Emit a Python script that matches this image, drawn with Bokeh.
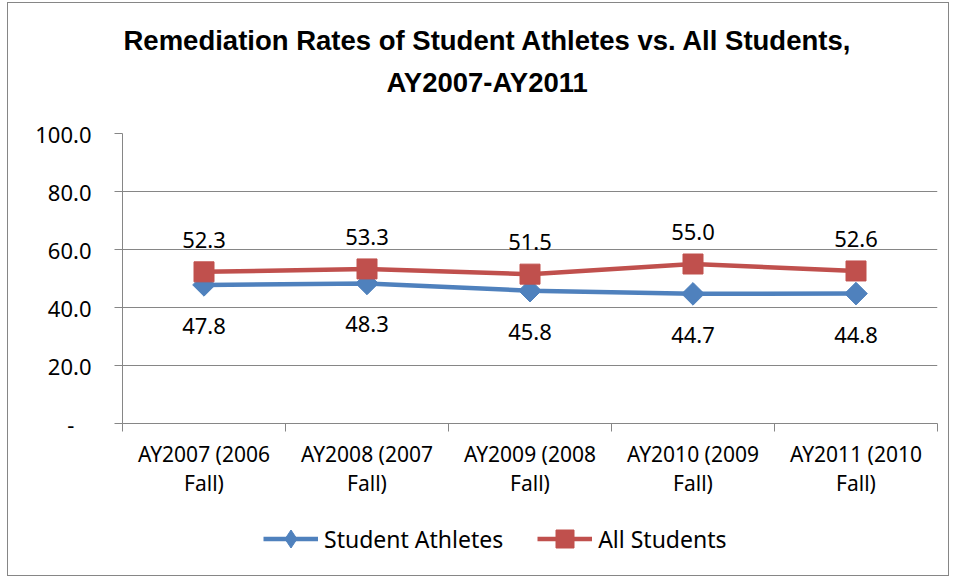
from bokeh.plotting import figure
from bokeh.layouts import column
from bokeh.models import (LinearAxis, FixedTicker, Range1d, Title, Legend,
                          LegendItem, ColumnDataSource)
from bokeh.core.properties import value
from bokeh.embed import file_html
from bokeh.resources import INLINE

# ---- data ----
categories = ["AY2007 (2006 Fall)", "AY2008 (2007 Fall)", "AY2009 (2008 Fall)",
              "AY2010 (2009 Fall)", "AY2011 (2010 Fall)"]
tick_labels = ["AY2007 (2006\nFall)", "AY2008 (2007\nFall)", "AY2009 (2008\nFall)",
               "AY2010 (2009\nFall)", "AY2011 (2010\nFall)"]
student_athletes = [47.8, 48.3, 45.8, 44.7, 44.8]
all_students = [52.3, 53.3, 51.5, 55.0, 52.6]
y_ticks = [0, 20, 40, 60, 80, 100]
title_lines = ["Remediation Rates of Student Athletes vs. All Students,", "AY2007-AY2011"]
series_names = ["Student Athletes", "All Students"]

BLUE = "#4F81BD"
RED = "#C0504D"
GRAY = "#868686"
TXT = "#000000"
FONT = "Noto Sans"
TFONT = "Liberation Sans"

n = len(categories)
xs = [i + 0.5 for i in range(n)]

src_a = ColumnDataSource(dict(x=xs, y=student_athletes,
                              lbl=[f"{v:.1f}" for v in student_athletes]))
src_b = ColumnDataSource(dict(x=xs, y=all_students,
                              lbl=[f"{v:.1f}" for v in all_students]))

fig = figure(width=940, height=505,
             x_range=Range1d(0, n), y_range=Range1d(0, 100),
             x_axis_type=None, output_backend="svg", toolbar_location=None,
             min_border_left=114, min_border_right=11,
             min_border_top=130, min_border_bottom=85)
fig.outline_line_color = None
fig.background_fill_color = "white"
fig.border_fill_color = "white"

# y axis
fig.yaxis.ticker = FixedTicker(ticks=y_ticks)
fig.yaxis.major_label_overrides = {t: (f"{t:.1f}" if t else "-\u00a0\u00a0\u00a0") for t in y_ticks}
fig.yaxis.axis_line_color = GRAY
fig.yaxis.major_tick_line_color = GRAY
fig.yaxis.major_tick_out = 8
fig.yaxis.major_tick_in = 0
fig.yaxis.minor_tick_line_color = None
fig.yaxis.major_label_standoff = 23
fig.yaxis.major_label_text_font = FONT
fig.yaxis.major_label_text_font_size = "22px"
fig.yaxis.major_label_text_color = TXT

fig.ygrid.ticker = FixedTicker(ticks=y_ticks)
fig.ygrid.grid_line_color = GRAY
fig.ygrid.grid_line_width = 1
fig.xgrid.visible = False

# x axis: boundary ticks, then category labels
tick_axis = LinearAxis(ticker=FixedTicker(ticks=list(range(n + 1))),
                       major_label_overrides={i: "" for i in range(n + 1)},
                       major_label_text_font_size="1px", major_label_standoff=0,
                       axis_line_color=GRAY, major_tick_line_color=GRAY,
                       major_tick_out=8, major_tick_in=0, minor_tick_line_color=None)
label_axis = LinearAxis(ticker=FixedTicker(ticks=xs),
                        major_label_overrides={x: l for x, l in zip(xs, tick_labels)},
                        axis_line_color=None, major_tick_line_color=None,
                        minor_tick_line_color=None, major_tick_out=0, major_tick_in=0,
                        major_label_standoff=8, major_label_text_font=FONT,
                        major_label_text_font_size="21px", major_label_text_color=TXT,
                        major_label_text_line_height=1.05)
fig.add_layout(tick_axis, "below")
fig.add_layout(label_axis, "below")

# series
fig.line("x", "y", source=src_a, line_color=BLUE, line_width=4.5)
fig.scatter("x", "y", source=src_a, marker="square", angle=0.785398, size=16,
            fill_color=BLUE, line_color=BLUE)
fig.line("x", "y", source=src_b, line_color=RED, line_width=4.5)
fig.scatter("x", "y", source=src_b, marker="square", size=20,
            fill_color=RED, line_color=RED)

fig.text("x", "y", text="lbl", source=src_a, text_align="center",
         text_baseline="alphabetic", y_offset=41, text_font=value(FONT),
         text_font_size="22px", text_color=TXT)
fig.text("x", "y", text="lbl", source=src_b, text_align="center",
         text_baseline="alphabetic", y_offset=-32, text_font=value(FONT),
         text_font_size="22px", text_color=TXT)

# title: spacer nearest the frame, then line 2, then line 1
fig.add_layout(Title(text=" ", text_font_size="1px", standoff=24), "above")
fig.add_layout(Title(text=title_lines[1], align="left", offset=264, standoff=18,
                     text_font=TFONT, text_font_style="bold",
                     text_font_size="27.5px", text_color=TXT), "above")
fig.add_layout(Title(text=title_lines[0], align="left", offset=1, standoff=0,
                     text_font=TFONT, text_font_style="bold",
                     text_font_size="27.5px", text_color=TXT), "above")

# legend strip below the chart (its renderers share the series data, which
# lies outside this strip's ranges, so only the legend swatches show)
leg = figure(width=940, height=67, x_range=Range1d(0, 1), y_range=Range1d(0, 1),
             x_axis_type=None, y_axis_type=None, output_backend="svg",
             toolbar_location=None, min_border=0)
leg.outline_line_color = None
leg.grid.visible = False
leg.border_fill_color = "white"
lla = leg.line("x", "y", source=src_a, line_color=BLUE, line_width=4.5)
lma = leg.scatter("x", "y", source=src_a, marker="diamond", size=20,
                  fill_color=BLUE, line_color=BLUE)
llb = leg.line("x", "y", source=src_b, line_color=RED, line_width=4.5)
lmb = leg.scatter("x", "y", source=src_b, marker="square", size=20,
                  fill_color=RED, line_color=RED)

legend = Legend(items=[LegendItem(label=series_names[0], renderers=[lla, lma]),
                       LegendItem(label=series_names[1], renderers=[llb, lmb])],
                orientation="horizontal", location=(141, 14),
                glyph_width=55, glyph_height=45, label_standoff=6, spacing=34,
                padding=0, margin=0, border_line_color=None,
                background_fill_alpha=0, label_text_font=FONT,
                label_text_font_size="23px", label_text_color=TXT)
leg.add_layout(legend, "center")

p = column(fig, leg, spacing=0)
p.styles = {"border": "1px solid #868686", "margin-left": "7px", "margin-top": "2px"}

open("out.html", "w").write(file_html(p, INLINE))
